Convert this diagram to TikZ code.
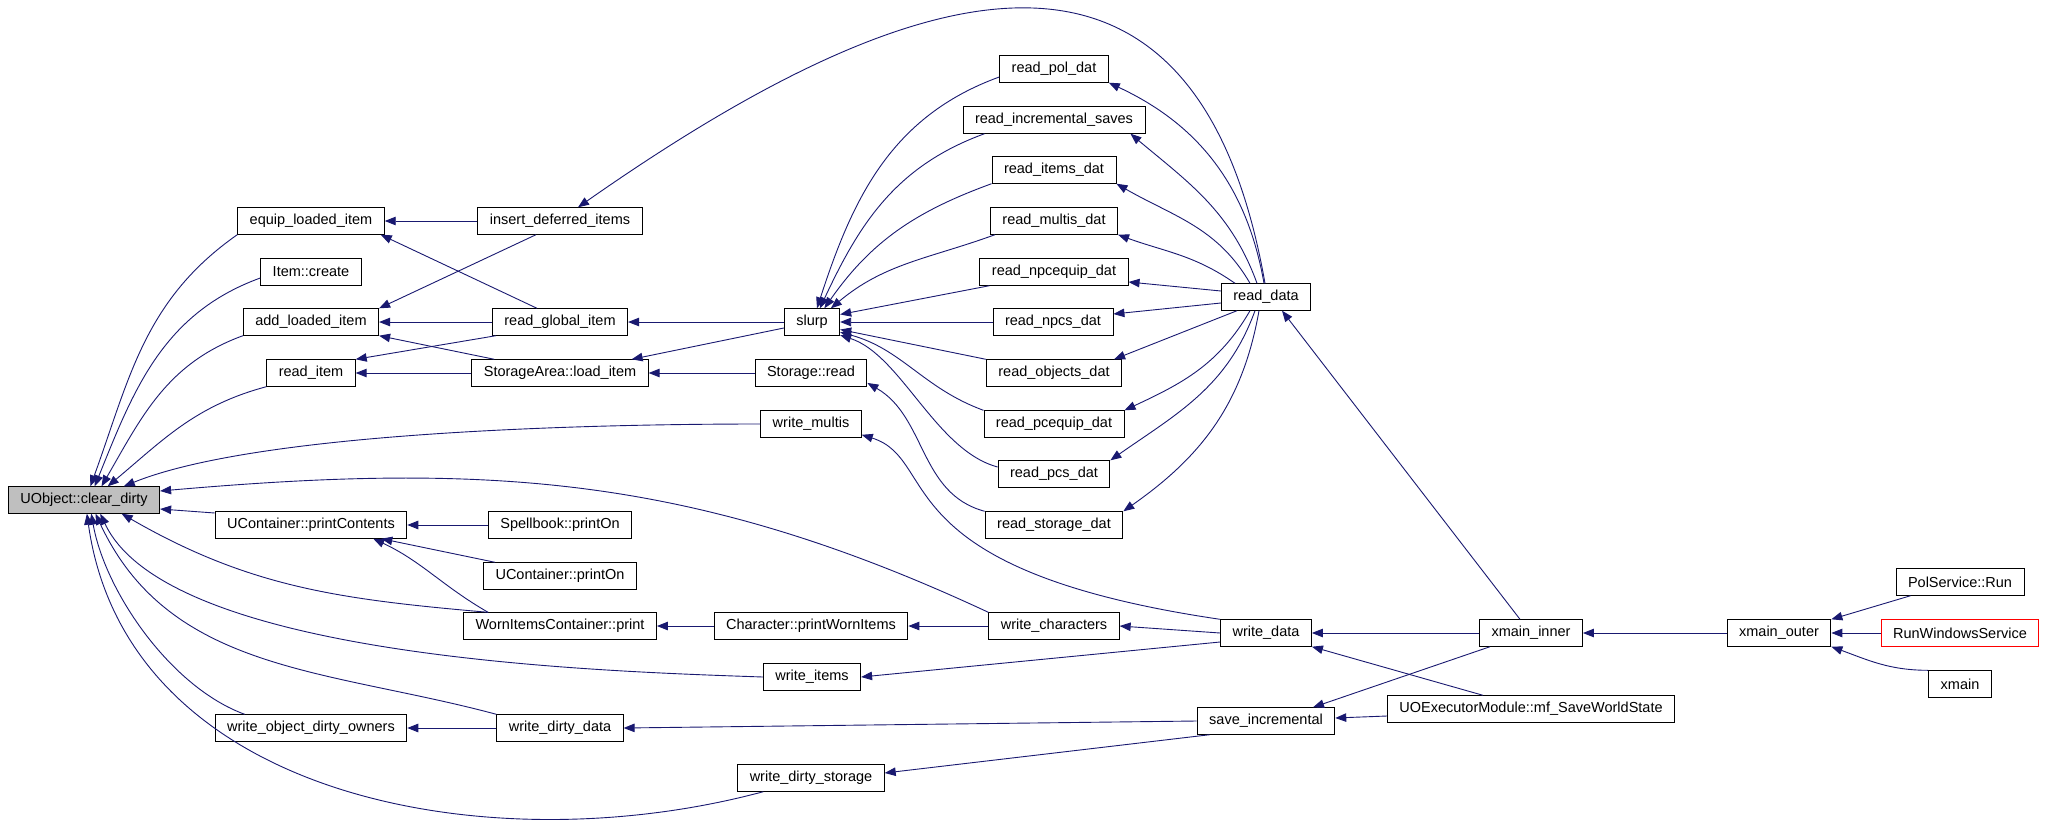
\documentclass[tikz,border=0pt]{standalone}
\usepackage{fontspec}
\setmainfont{Liberation Sans}
\usetikzlibrary{arrows.meta}
\definecolor{callblue}{HTML}{191970}

\begin{document}
\begin{tikzpicture}[x=1pt,y=1pt,
                    func/.style = {draw=black,
                                line width=0.9pt,
                                fill=white,
                                inner xsep=12pt,
                                inner ysep=0pt,
                                minimum height=26.5pt,
                                font=\fontsize{14.5}{17}\selectfont},
                    rootfn/.style = {func, fill=black!25},
                    extfn/.style = {func, draw=red},
                    call/.style = {draw=callblue,
                                line width=0.9pt,
                                -{Triangle[length=11pt,width=8.5pt]}}]
                    \useasboundingbox (0,0) rectangle (2045,-830);
                    % Root
                    \node[rootfn] (uobj) at (84,-500) {UObject::clear\_dirty};
                    % Callers, first row
                    \node[func] (equip) at (311,-221) {equip\_loaded\_item};
                    \node[func] (itemcreate) at (311,-272) {Item::create};
                    \node[func] (addloaded) at (311,-322) {add\_loaded\_item};
                    \node[func] (readitem) at (311,-373) {read\_item};
                    \node[func] (printcont) at (311,-525) {UContainer::printContents};
                    \node[func] (wdirtyown) at (311,-728) {write\_object\_dirty\_owners};
                    % Second row
                    \node[func] (insertdef) at (560,-221) {insert\_deferred\_items};
                    \node[func] (readglobal) at (560,-322) {read\_global\_item};
                    \node[func] (loaditem) at (560,-373) {StorageArea::load\_item};
                    \node[func] (spellbook) at (560,-525) {Spellbook::printOn};
                    \node[func] (printon) at (560,-576) {UContainer::printOn};
                    \node[func] (wornprint) at (560,-626) {WornItemsContainer::print};
                    \node[func] (wdirtydata) at (560,-728) {write\_dirty\_data};
                    % Third row
                    \node[func] (slurp) at (812,-322) {slurp};
                    \node[func] (storread) at (811,-373) {Storage::read};
                    \node[func] (wmultis) at (811,-424) {write\_multis};
                    \node[func] (printworn) at (811,-626) {Character::printWornItems};
                    \node[func] (witems) at (812,-677) {write\_items};
                    \node[func] (wdirtystor) at (811,-778) {write\_dirty\_storage};
                    % Data file readers
                    \node[func] (readpol) at (1054,-69) {read\_pol\_dat};
                    \node[func] (readincr) at (1054,-120) {read\_incremental\_saves};
                    \node[func] (readitems) at (1054,-170) {read\_items\_dat};
                    \node[func] (readmultis) at (1054,-221) {read\_multis\_dat};
                    \node[func] (readnpceq) at (1054,-272) {read\_npcequip\_dat};
                    \node[func] (readnpcs) at (1053,-322) {read\_npcs\_dat};
                    \node[func] (readobjects) at (1054,-373) {read\_objects\_dat};
                    \node[func] (readpceq) at (1054,-424) {read\_pcequip\_dat};
                    \node[func] (readpcs) at (1054,-474) {read\_pcs\_dat};
                    \node[func] (readstorage) at (1054,-525) {read\_storage\_dat};
                    \node[func] (wchars) at (1054,-626) {write\_characters};
                    % Load and save
                    \node[func] (readdata) at (1266,-297) {read\_data};
                    \node[func] (writedata) at (1266,-633) {write\_data};
                    \node[func] (saveincr) at (1266,-721) {save\_incremental};
                    % Entry points
                    \node[func] (xinner) at (1531,-633) {xmain\_inner};
                    \node[func] (uoexec) at (1531,-709) {UOExecutorModule::mf\_SaveWorldState};
                    \node[func] (xouter) at (1779,-633) {xmain\_outer};
                    \node[func] (polrun) at (1960,-582) {PolService::Run};
                    \node[extfn] (runwin) at (1960,-633) {RunWindowsService};
                    \node[func] (xmain) at (1960,-684) {xmain};
                    % Calls into clear_dirty
                    \draw[call] (equip.south west) to[out=215,in=70] (uobj.65);
                    \draw[call] ([yshift=-6pt]itemcreate.west) to[out=200,in=68] (uobj.52);
                    \draw[call] (addloaded.south west) to[out=200,in=60] (uobj.38);
                    \draw[call] (readitem.south west) to[out=195,in=40] (uobj.30);
                    \draw[call] (wmultis.west) to[out=180,in=22,looseness=0.6] (uobj.19);
                    \draw[call] (wchars.north west) to[out=155,in=5] ([yshift=9pt]uobj.east);
                    \draw[call] ([yshift=12pt]printcont.west) -- ([yshift=-9pt]uobj.east);
                    \draw[call] ([xshift=25pt]wornprint.north west) to[out=175,in=-30] (uobj.-20);
                    \draw[call] (witems.west) to[out=178,in=-65,looseness=0.6] (uobj.-40);
                    \draw[call] ([xshift=30pt]wdirtyown.north west) to[out=160,in=-80,looseness=0.8] (uobj.-62);
                    \draw[call] (wdirtydata.north west) to[out=165,in=-65] (uobj.-50);
                    \draw[call] ([xshift=26pt]wdirtystor.south west) to[out=195,in=-82] (uobj.-78);
                    % Item loading
                    \draw[call] (insertdef.west) -- (equip.east);
                    \draw[call] ([xshift=-23pt]readglobal.north) -- ([xshift=-4pt]equip.south east);
                    \draw[call] ([xshift=-24pt]insertdef.south) -- (addloaded.north east);
                    \draw[call] (readglobal.west) -- (addloaded.east);
                    \draw[call] ([xshift=23pt]loaditem.north west) -- (addloaded.south east);
                    \draw[call] ([xshift=4pt]readglobal.south west) -- (readitem.north east);
                    \draw[call] (loaditem.west) -- (readitem.east);
                    \draw[call] (slurp.west) -- (readglobal.east);
                    \draw[call] ([yshift=-6pt]slurp.west) -- ([xshift=-17pt]loaditem.north east);
                    \draw[call] (storread.west) -- (loaditem.east);
                    % Containers
                    \draw[call] (spellbook.west) -- (printcont.east);
                    \draw[call] ([xshift=12pt]printon.north west) -- ([xshift=-26pt]printcont.south east);
                    \draw[call] ([xshift=25pt]wornprint.north west) to[out=150,in=-25] ([xshift=-34pt]printcont.south east);
                    \draw[call] (printworn.west) -- (wornprint.east);
                    \draw[call] (wchars.west) -- (printworn.east);
                    \draw[call] (wdirtydata.west) -- (wdirtyown.east);
                    % Readers calling slurp
                    \draw[call] ([yshift=-8pt]readpol.west) to[out=200,in=72] (slurp.70);
                    \draw[call] ([xshift=22pt]readincr.south west) to[out=200,in=65] (slurp.60);
                    \draw[call] (readitems.south west) to[out=200,in=55] (slurp.48);
                    \draw[call] ([xshift=5pt]readmultis.south west) to[out=200,in=40] (slurp.36);
                    \draw[call] ([xshift=10pt]readnpceq.south west) -- (slurp.15);
                    \draw[call] (readnpcs.west) -- (slurp.east);
                    \draw[call] (readobjects.north west) -- (slurp.-15);
                    \draw[call] (readpceq.north west) to[out=160,in=-15] (slurp.-20);
                    \draw[call] ([yshift=7pt]readpcs.west) to[out=165,in=-18,looseness=0.8] (slurp.-25);
                    \draw[call] (readstorage.north west) to[out=165,in=-30] (storread.-10);
                    % read_data
                    \draw[call] ([xshift=-1pt]readdata.north) to[out=100,in=35,looseness=1.5] ([xshift=18pt]insertdef.north);
                    \draw[call] ([xshift=-2pt]readdata.north) to[out=100,in=-25] (readpol.south east);
                    \draw[call] ([xshift=-9pt]readdata.north) to[out=110,in=-40] ([xshift=-15pt]readincr.south east);
                    \draw[call] ([xshift=-16pt]readdata.north) to[out=120,in=-30] (readitems.south east);
                    \draw[call] ([xshift=-31pt]readdata.north) to[out=145,in=-20] (readmultis.south east);
                    \draw[call] ([yshift=6pt]readdata.west) -- ([yshift=-10pt]readnpceq.east);
                    \draw[call] ([yshift=-6pt]readdata.west) -- ([yshift=8pt]readnpcs.east);
                    \draw[call] ([xshift=-29pt]readdata.south) -- ([xshift=-8pt]readobjects.north east);
                    \draw[call] ([xshift=-16pt]readdata.south) to[out=-120,in=25] (readpceq.north east);
                    \draw[call] ([xshift=-11pt]readdata.south) to[out=-110,in=35] (readpcs.north east);
                    \draw[call] ([xshift=-7pt]readdata.south) to[out=-100,in=35] (readstorage.north east);
                    % write_data and save_incremental
                    \draw[call] (writedata.north west) .. controls +(-340,50) and +(80,-25) .. (wmultis.-12);
                    \draw[call] (writedata.west) -- (wchars.east);
                    \draw[call] ([yshift=-9pt]writedata.west) -- (witems.east);
                    \draw[call] (saveincr.west) -- (wdirtydata.east);
                    \draw[call] ([xshift=13pt]saveincr.south west) -- ([yshift=5pt]wdirtystor.east);
                    % xmain_inner and mf_SaveWorldState
                    \draw[call] ([xshift=-11pt]xinner.north) -- ([xshift=16pt]readdata.south);
                    \draw[call] (xinner.west) -- (writedata.east);
                    \draw[call] ([xshift=-41pt]xinner.south) -- ([xshift=47pt]saveincr.north);
                    \draw[call] ([xshift=-48pt]uoexec.north) -- (writedata.south east);
                    \draw[call] ([yshift=-7pt]uoexec.west) -- ([yshift=3pt]saveincr.east);
                    % xmain_outer
                    \draw[call] (xouter.west) -- (xinner.east);
                    \draw[call] ([xshift=15pt]polrun.south west) -- (xouter.north east);
                    \draw[call] (runwin.west) -- (xouter.east);
                    \draw[call] (xmain.north west) to[out=180,in=-20] (xouter.south east);
                \end{tikzpicture}
\end{document}
